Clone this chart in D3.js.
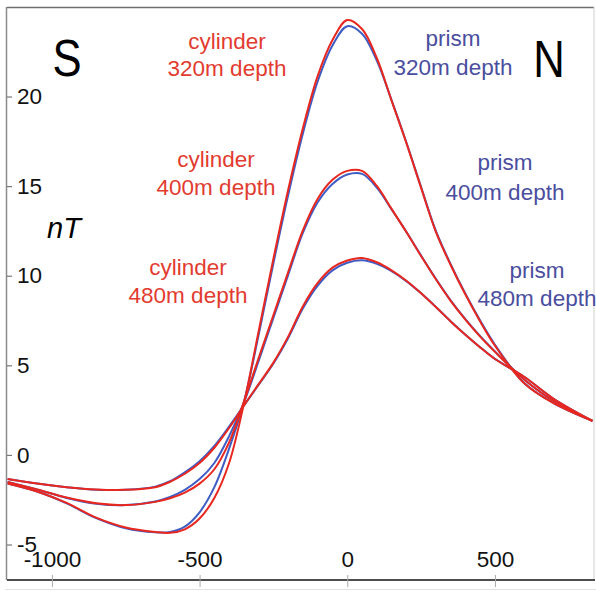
<!DOCTYPE html>
<html>
<head>
<meta charset="utf-8">
<script src="https://cdn.jsdelivr.net/npm/d3@7/dist/d3.min.js"></script>
<style>
  html, body { margin: 0; padding: 0; background: #ffffff; }
  svg { display: block; }
  text { font-family: "Liberation Sans", Arial, Helvetica, sans-serif; }
</style>
</head>
<body>
<svg id="chart" width="596" height="599"></svg>
<script>
// ---- data ----
const distance = [-1150,-1050,-950,-850,-750,-650,-600,-550,-500,-450,-400,-350,-300,-250,-200,-150,-100,-50,0,50,100,150,200,250,300,350,400,450,500,600,700,830];

const cylinder320 = [-1.59,-2.04,-2.68,-3.5,-4.05,-4.3,-4.35,-4.15,-3.55,-2.4,-0.45,2.85,6.9,10.95,14.8,18.25,21.15,23.15,24.27,23.77,22.15,19.77,17.41,14.9,12.45,10.6,8.95,7.45,6.1,3.98,2.87,1.9];
const prism320    = [-1.59,-2.04,-2.7,-3.53,-4.1,-4.32,-4.3,-4.0,-3.2,-1.8,0.35,2.95,6.7,10.7,14.5,17.95,20.85,22.85,23.92,23.5,22.0,19.8,17.45,14.95,12.5,10.65,9.0,7.5,6.15,4.0,2.88,1.9];

const cylinder400 = [-1.51,-1.93,-2.38,-2.7,-2.8,-2.62,-2.42,-2.1,-1.6,-0.8,0.7,2.96,5.4,7.8,10.2,12.55,14.3,15.35,15.85,15.85,15.01,13.73,12.44,11.1,9.8,8.6,7.55,6.6,5.75,4.2,3.0,1.9];
const prism400    = [-1.51,-1.93,-2.4,-2.72,-2.8,-2.6,-2.35,-1.95,-1.35,-0.45,1.05,2.92,5.25,7.65,10.05,12.4,14.1,15.12,15.65,15.68,14.92,13.7,12.45,11.12,9.83,8.63,7.58,6.63,5.78,4.2,3.0,1.9];

const cylinder480 = [-1.34,-1.6,-1.8,-1.93,-1.95,-1.8,-1.5,-1.05,-0.45,0.4,1.5,2.75,3.95,5.15,6.6,8.3,9.6,10.45,10.85,10.99,10.75,10.3,9.72,9.02,8.25,7.45,6.7,6.0,5.35,4.35,3.12,1.9];
const prism480    = [-1.34,-1.6,-1.8,-1.94,-1.94,-1.77,-1.47,-0.97,-0.35,0.5,1.58,2.75,3.92,5.1,6.52,8.18,9.45,10.3,10.72,10.86,10.66,10.25,9.7,9.02,8.26,7.46,6.71,6.01,5.36,4.35,3.12,1.9];

const xTicks = [-1000, -500, 0, 500];
const yTicks = [-5, 0, 5, 10, 15, 20];

const cylinderLabels = [["cylinder", "320m depth"], ["cylinder", "400m depth"], ["cylinder", "480m depth"]];
const prismLabels    = [["prism", "320m depth"], ["prism", "400m depth"], ["prism", "480m depth"]];
const directionLabels = ["S", "N"];
const unitLabel = "nT";

// ---- layout ----
const svg = d3.select("#chart");
const plotL = 7, plotR = 593, plotT = 8, plotB = 580;

const x = d3.scaleLinear().domain([-1152, 832]).range([plotL, plotR]);
const y = d3.scaleLinear().domain([-6.98, 24.94]).range([plotB, plotT]);

const RED = "#e8271f";
const BLUE = "#3f5cc4";
const RED_TEXT = "#e23b30";
const BLUE_TEXT = "#4a4e9e";

svg.append("rect").attr("width", 596).attr("height", 599).attr("fill", "#fff");

// clip
svg.append("clipPath").attr("id", "plotclip")
  .append("rect").attr("x", plotL).attr("y", plotT).attr("width", plotR - plotL).attr("height", plotB - plotT);

// frame
svg.append("line").attr("x1", plotL).attr("x2", plotR + 1).attr("y1", 7.5).attr("y2", 7.5)
  .attr("stroke", "#6f6f6f").attr("stroke-width", 1.5);
svg.append("line").attr("x1", 6.5).attr("x2", 6.5).attr("y1", 7).attr("y2", plotB)
  .attr("stroke", "#8a8a8a").attr("stroke-width", 1.5);
svg.append("line").attr("x1", 594).attr("x2", 594).attr("y1", 7).attr("y2", plotB)
  .attr("stroke", "#d0d0d0").attr("stroke-width", 1);
svg.append("line").attr("x1", 5).attr("x2", 596).attr("y1", 589.5).attr("y2", 589.5)
  .attr("stroke", "#e2e2e2").attr("stroke-width", 1);

// y axis (ticks and labels inside the plot)
const yAxis = svg.append("g").attr("transform", `translate(${plotL},0)`)
  .call(d3.axisRight(y).tickValues(yTicks).tickSize(5).tickPadding(5).tickFormat(d => String(d)));
yAxis.select(".domain").remove();
yAxis.selectAll(".tick line").attr("stroke", "#777").attr("stroke-width", 1.2);
yAxis.selectAll(".tick text").attr("fill", "#111").style("font-size", "22.5px")
  .style("font-family", '"Liberation Sans", Arial, sans-serif');

// x axis (labels above the bottom line)
const xAxis = svg.append("g").attr("transform", `translate(0,${plotB})`)
  .call(d3.axisBottom(x).tickValues(xTicks).tickSize(6).tickFormat(d => String(d)));
xAxis.select(".domain").attr("d", `M${plotL},0H${plotR + 2}`).attr("stroke", "#4d4d4d").attr("stroke-width", 2);
xAxis.selectAll(".tick line").attr("y1", -5).attr("y2", 7).attr("stroke", "#aaa").attr("stroke-width", 1);
xAxis.selectAll(".tick text").attr("y", -13).attr("dy", "0").attr("fill", "#111").style("font-size", "22.5px")
  .style("font-family", '"Liberation Sans", Arial, sans-serif');

// curves
const line = d3.line()
  .x((d, i) => x(distance[i]))
  .y(d => y(d))
  .curve(d3.curveCatmullRom.alpha(0.5));

const curves = svg.append("g").attr("clip-path", "url(#plotclip)");
[prism320, prism400, prism480].forEach(s => {
  curves.append("path").attr("d", line(s)).attr("fill", "none")
    .attr("stroke", BLUE).attr("stroke-width", 2);
});
[cylinder320, cylinder400, cylinder480].forEach(s => {
  curves.append("path").attr("d", line(s)).attr("fill", "none")
    .attr("stroke", RED).attr("stroke-width", 2);
});

// labels
const labelPos = {
  cylinder: [[227, 49, 76], [216, 167, 195], [188, 275, 303]],
  prism: [[453, 46, 75], [505, 170, 200], [537, 278, 306]]
};
function drawLabel(lines, pos, color) {
  const t = svg.append("text").attr("text-anchor", "middle").attr("fill", color).style("font-size", "22.5px");
  t.append("tspan").attr("x", pos[0]).attr("y", pos[1]).text(lines[0]);
  t.append("tspan").attr("x", pos[0]).attr("y", pos[2]).text(lines[1]);
}
cylinderLabels.forEach((l, i) => drawLabel(l, labelPos.cylinder[i], RED_TEXT));
prismLabels.forEach((l, i) => drawLabel(l, labelPos.prism[i], BLUE_TEXT));

// direction letters
svg.append("text").attr("transform", "translate(67,76) scale(0.84,1)")
  .attr("text-anchor", "middle").attr("fill", "#000").style("font-size", "52px").text(directionLabels[0]);
svg.append("text").attr("transform", "translate(549,77) scale(0.84,1)")
  .attr("text-anchor", "middle").attr("fill", "#000").style("font-size", "52px").text(directionLabels[1]);

// unit
svg.append("text").attr("x", 47).attr("y", 238).attr("fill", "#000")
  .style("font-size", "29px").style("font-style", "italic").text(unitLabel);
</script>
</body>
</html>
